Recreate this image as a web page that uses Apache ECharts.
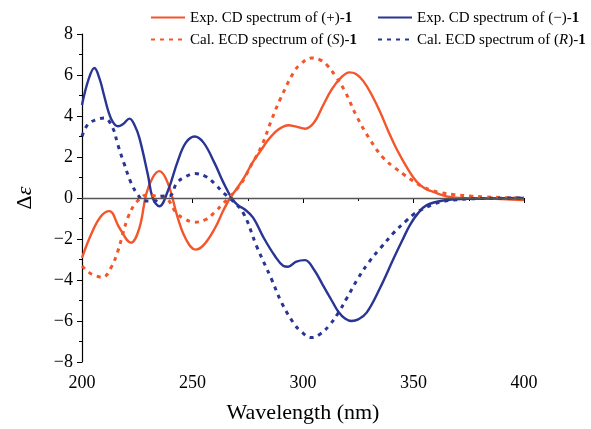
<!DOCTYPE html>
<html>
<head>
<meta charset="utf-8">
<script src="https://cdn.jsdelivr.net/npm/echarts@6/dist/echarts.min.js"></script>
<style>
  html, body { margin: 0; padding: 0; background: #fff; }
  #chart { width: 591px; height: 429px; }
</style>
</head>
<body>
<div id="chart"></div>
<script>
// wavelength (nm) / delta epsilon
var expPosWl = [200,204,208.5,212.4,216.9,222.2,226,229,232,235,238.8,243.3,247,251.4,255,260,264,267,270,273.7,277,281.2,284,287.3,290,293.3,297,301,305,309,313,317,321,324,327.3,331,334.8,338.5,342.4,347.6,351.4,355,359,363,366.5,374,382,390,400];
var expPos = [-2.92,-1.8,-0.9,-0.64,-1.45,-2.18,-1.45,0.17,1.0,1.31,0.74,-0.96,-2.0,-2.52,-2.3,-1.5,-0.6,0,0.45,1.06,1.7,2.36,2.8,3.2,3.42,3.55,3.48,3.38,3.68,4.5,5.3,5.85,6.13,6.05,5.7,5.05,4.22,3.28,2.38,1.39,0.8,0.48,0.3,0.14,0.05,-0.02,-0.03,-0.05,-0.1];

var expNegWl = [200,203,205.6,208,210,212,214,216.2,218.5,221.5,224,226,229.8,232,235,238.8,243.3,247,251,255,260,264,267.7,270.5,273.7,277.5,282,287.3,291,293.3,297,300.9,305,309,313,316,319,322,325,328.8,334.8,341,345,348.5,352,356,363.5,374,385,400];
var expNeg = [4.54,5.8,6.34,5.8,5.0,4.2,3.7,3.5,3.6,3.87,3.5,2.92,1.14,0,-0.4,0.33,1.79,2.7,3.0,2.7,1.7,0.75,0,-0.35,-0.56,-0.97,-1.9,-2.83,-3.3,-3.35,-3.1,-3.03,-3.5,-4.25,-5.0,-5.55,-5.88,-6.0,-5.92,-5.59,-4.4,-2.95,-2.05,-1.3,-0.75,-0.35,-0.12,-0.04,-0.02,0];

var calSWl = [200,203.3,206.3,209.4,213.1,216.2,218.4,220.7,223.7,226,229,232,235,238,242.5,246,251,256,260,264,266.5,272.2,276.7,281.2,285.8,289.6,295.6,298.6,303.9,307.5,310.7,314.4,319,324.3,330.3,336.3,341.6,346.2,349.9,353.7,358,362.8,368,376.4,382,390,400];
var calS = [-3.32,-3.64,-3.8,-3.87,-3.4,-2.6,-1.78,-0.97,-0.32,-0.07,0.15,0.12,0.05,0.0,-0.7,-1.0,-1.18,-1.05,-0.7,-0.25,0,0.74,1.63,2.52,3.82,4.8,6.1,6.5,6.83,6.75,6.5,6.0,5.2,3.98,2.85,1.96,1.47,1.1,0.82,0.57,0.38,0.25,0.17,0.09,0.06,0.02,0];

var calRWl = [200,202.6,206.3,210.1,213.9,216.2,219.2,222.2,225.2,228.3,232.8,235.8,239.6,243,247,251.1,256,260,264,266.8,272.9,279,285.8,290.3,295.6,299,303.9,308,312,316,320,325,330,335,341,347,350,354,358,362,370,380,390,400];
var calR = [3.01,3.58,3.82,3.9,3.42,2.6,1.63,0.74,0.17,-0.15,-0.15,0.09,0.1,0.75,1.05,1.19,1.05,0.7,0.25,0,-0.72,-2.35,-3.97,-5.1,-6.08,-6.5,-6.81,-6.62,-6.2,-5.6,-4.85,-3.9,-3.1,-2.45,-1.7,-1.08,-0.8,-0.55,-0.35,-0.2,-0.08,-0.03,-0.01,0];

var seriesNames = ['Exp. CD spectrum of (+)-1', 'Exp. CD spectrum of (\u2212)-1',
                   'Cal. ECD spectrum of (S)-1', 'Cal. ECD spectrum of (R)-1'];
var legendText = [
  '{a|Exp. CD spectrum of (+)-}{b|1}',
  '{a|Exp. CD spectrum of (\u2212)-}{b|1}',
  '{a|Cal. ECD spectrum of (}{i|S}{a|)-}{b|1}',
  '{a|Cal. ECD spectrum of (}{i|R}{a|)-}{b|1}'
];

var RED = '#f4562b';
var BLUE = '#283594';
var FONT = '"Liberation Serif", "Times New Roman", serif';

function pairs(xs, ys) {
  return xs.map(function (x, i) { return [x, ys[i]]; });
}

var rich = {
  a: { fontFamily: FONT, fontSize: 15, color: '#000' },
  b: { fontFamily: FONT, fontSize: 15, color: '#000', fontWeight: 'bold' },
  i: { fontFamily: FONT, fontSize: 15, color: '#000', fontStyle: 'italic' }
};

function legendAt(idx, left, top) {
  return {
    data: [seriesNames[idx]],
    left: left, top: top,
    itemWidth: 34, itemHeight: 12, itemGap: 5,
    padding: 0,
    itemStyle: { opacity: 0 },
    formatter: function () { return legendText[idx]; },
    textStyle: { rich: rich, padding: [2, 0, 0, 0] }
  };
}

var chart = echarts.init(document.getElementById('chart'));
chart.setOption({
  animation: false,
  backgroundColor: '#fff',
  grid: { left: 82, right: 67, top: 34, bottom: 66 },
  legend: [
    legendAt(0, 150, 11),
    legendAt(1, 377, 11),
    legendAt(2, 150, 33),
    legendAt(3, 377, 33)
  ],
  xAxis: {
    type: 'value', min: 200, max: 400, interval: 50,
    name: 'Wavelength (nm)', nameLocation: 'middle', nameGap: 40,
    nameTextStyle: { fontFamily: FONT, fontSize: 22, color: '#000' },
    axisLine: { lineStyle: { color: '#000', width: 1.2 } },
    axisTick: { length: 5, lineStyle: { color: '#000' } },
    minorTick: { show: true, splitNumber: 2, length: 3, lineStyle: { color: '#000' } },
    axisLabel: { fontFamily: FONT, fontSize: 18, color: '#000', margin: 12 },
    splitLine: { show: false }
  },
  yAxis: {
    type: 'value', min: -8, max: 8, interval: 2,
    name: '{a|\u0394}{b|\u03b5}', nameLocation: 'middle', nameGap: 46, nameRotate: 90,
    nameTextStyle: {
      rich: {
        a: { fontFamily: FONT, fontSize: 22, color: '#000' },
        b: { fontFamily: FONT, fontSize: 22, color: '#000', fontStyle: 'italic' }
      }
    },
    axisLine: { show: true, lineStyle: { color: '#000', width: 1.2 } },
    axisTick: { show: true, length: 5, lineStyle: { color: '#000' } },
    minorTick: { show: true, splitNumber: 2, length: 3, lineStyle: { color: '#000' } },
    axisLabel: {
      fontFamily: FONT, fontSize: 18, color: '#000', margin: 9,
      formatter: function (v) { return v < 0 ? '\u2212' + Math.abs(v) : String(v); }
    },
    splitLine: { show: false }
  },
  series: [
    {
      name: seriesNames[0], type: 'line', data: pairs(expPosWl, expPos),
      smooth: 0.4, symbol: 'none', z: 3,
      lineStyle: { color: RED, width: 2.4 }, itemStyle: { color: RED },
      markLine: {
        silent: true, symbol: 'none', label: { show: false },
        lineStyle: { color: '#555', width: 1.4, type: 'solid' },
        data: [{ yAxis: 0 }]
      }
    },
    {
      name: seriesNames[1], type: 'line', data: pairs(expNegWl, expNeg),
      smooth: 0.4, symbol: 'none', z: 3,
      lineStyle: { color: BLUE, width: 2.4 }, itemStyle: { color: BLUE }
    },
    {
      name: seriesNames[2], type: 'line', data: pairs(calSWl, calS),
      smooth: 0.4, symbol: 'none', z: 3,
      lineStyle: { color: RED, width: 3, type: [4, 5] }, itemStyle: { color: RED }
    },
    {
      name: seriesNames[3], type: 'line', data: pairs(calRWl, calR),
      smooth: 0.4, symbol: 'none', z: 3,
      lineStyle: { color: BLUE, width: 3, type: [4, 5] }, itemStyle: { color: BLUE }
    }
  ]
});
</script>
</body>
</html>
